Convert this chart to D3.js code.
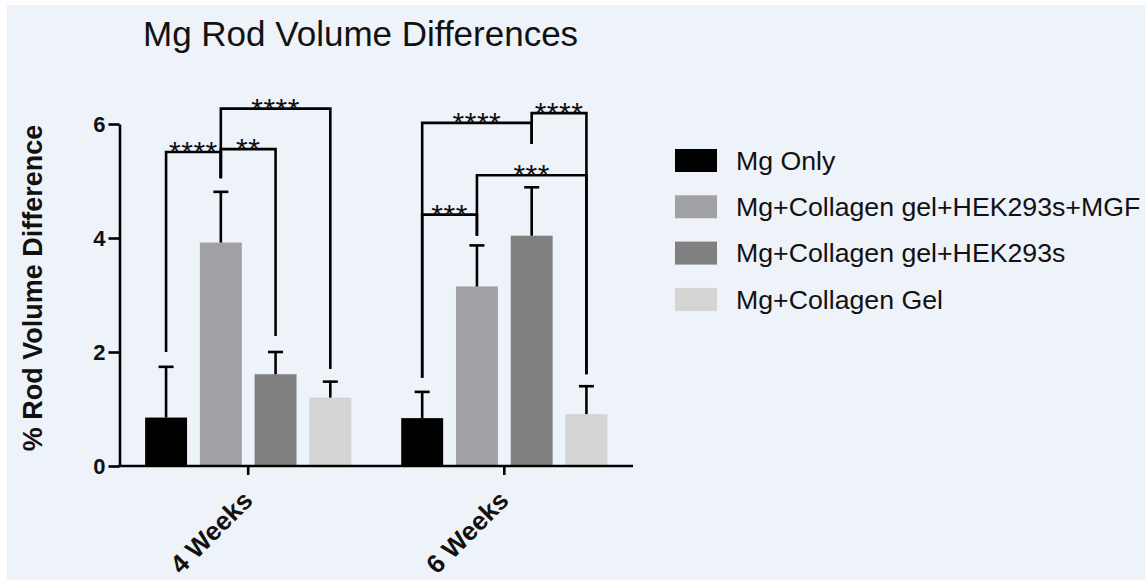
<!DOCTYPE html>
<html>
<head>
<meta charset="utf-8">
<script src="https://cdn.jsdelivr.net/npm/d3@7"></script>
<style>
  html, body { margin: 0; padding: 0; background: #ffffff; }
  svg { display: block; }
  text { font-family: "Liberation Sans", Arial, Helvetica, sans-serif; }
</style>
</head>
<body>
<svg id="chart" width="1145" height="580"></svg>
<script>
// ---- data ----
const groups = ["4 Weeks", "6 Weeks"];
const seriesNames = ["Mg Only", "Mg+Collagen gel+HEK293s+MGF", "Mg+Collagen gel+HEK293s", "Mg+Collagen Gel"];
const seriesColors = ["#000000", "#a1a1a5", "#808080", "#d4d4d4"];
const means4 = [0.85, 3.92, 1.61, 1.20];
const sd4    = [0.89, 0.89, 0.39, 0.28];
const means6 = [0.84, 3.15, 4.04, 0.91];
const sd6    = [0.46, 0.72, 0.85, 0.49];
const yTicks = [0, 2, 4, 6];
// significance brackets: group, from series, to series, bracket level, leg ends, label
const bracketGroup = [0, 0, 0, 1, 1, 1, 1];
const bracketFrom  = [0, 1, 1, 0, 0, 2, 1];
const bracketTo    = [1, 2, 3, 1, 2, 3, 3];
const bracketLevel = [5.51, 5.56, 6.27, 4.41, 6.02, 6.19, 5.10];
const legFrom      = [2.00, 5.05, 5.05, 1.55, 1.55, 5.65, 4.04];
const legTo        = [5.05, 2.28, 1.70, 4.04, 5.65, 1.61, 1.61];
const bracketLabel = ["****", "**", "****", "***", "****", "****", "***"];

const meansByGroup = [means4, means6];
const sdByGroup = [sd4, sd6];

// ---- drawing ----
const svg = d3.select("#chart");
svg.append("rect").attr("x", 7).attr("y", 5).attr("width", 1145 - 7).attr("height", 580 - 5).attr("fill", "#eef2f9");

const plotLeft = 119.5, plotRight = 633, plotTop = 124, plotBottom = 466;

const y = d3.scaleLinear().domain([0, 6]).range([plotBottom, plotTop]);
const x0 = d3.scaleBand().domain(groups).range([plotLeft, plotRight]).paddingInner(0.195).paddingOuter(0.1);
const x1 = d3.scaleBand().domain(d3.range(seriesNames.length)).range([0, x0.bandwidth()]).paddingInner(0.234).paddingOuter(0);

// title
svg.append("text").attr("x", 143).attr("y", 46).attr("font-size", 35).attr("fill", "#111")
  .text("Mg Rod Volume Differences");

// bars
const barData = [];
groups.forEach((g, gi) => {
  seriesNames.forEach((s, si) => {
    barData.push({ g, gi, si, mean: meansByGroup[gi][si], sd: sdByGroup[gi][si] });
  });
});
const cx = (gi, si) => x0(groups[gi]) + x1(si) + x1.bandwidth() / 2;

svg.append("g").selectAll("rect").data(barData).join("rect")
  .attr("x", d => x0(d.g) + x1(d.si))
  .attr("y", d => y(d.mean))
  .attr("width", x1.bandwidth())
  .attr("height", d => y(0) - y(d.mean))
  .attr("fill", d => seriesColors[d.si]);

// error bars (upper only)
const eb = svg.append("g").attr("stroke", "#000").attr("stroke-width", 2.6);
eb.selectAll("line.v").data(barData).join("line").attr("class", "v")
  .attr("x1", d => cx(d.gi, d.si)).attr("x2", d => cx(d.gi, d.si))
  .attr("y1", d => y(d.mean)).attr("y2", d => y(d.mean + d.sd));
eb.selectAll("line.c").data(barData).join("line").attr("class", "c")
  .attr("x1", d => cx(d.gi, d.si) - 7.5).attr("x2", d => cx(d.gi, d.si) + 7.5)
  .attr("y1", d => y(d.mean + d.sd)).attr("y2", d => y(d.mean + d.sd));

// y axis
const yAxis = svg.append("g").attr("transform", `translate(${plotLeft},0)`)
  .call(d3.axisLeft(y).tickValues(yTicks).tickFormat(d3.format("d")).tickSize(11).tickPadding(3).tickSizeOuter(0));
yAxis.select(".domain").attr("stroke", "#000").attr("stroke-width", 2.6);
yAxis.selectAll(".tick line").attr("stroke", "#000").attr("stroke-width", 2.6);
yAxis.selectAll(".tick text").attr("font-size", 22).attr("font-weight", "bold").attr("fill", "#111")
  .attr("font-family", "'Liberation Sans', Arial, sans-serif");

// x axis
const xAxis = svg.append("g").attr("transform", `translate(0,${plotBottom})`)
  .call(d3.axisBottom(x0).tickSize(9).tickSizeOuter(0).tickFormat(""));
xAxis.select(".domain").attr("stroke", "#000").attr("stroke-width", 2.6).attr("d", `M${plotLeft - 1.3},0H${plotRight}`);
xAxis.selectAll(".tick line").attr("stroke", "#000").attr("stroke-width", 2.6);

svg.append("g").selectAll("text").data(groups).join("text")
  .attr("transform", d => `translate(${x0(d) + x0.bandwidth() / 2 + 6},502) rotate(-45)`)
  .attr("text-anchor", "end")
  .attr("font-size", 26).attr("font-weight", "bold").attr("fill", "#111")
  .text(d => d);

// y label
svg.append("text").attr("transform", "translate(42,288) rotate(-90)")
  .attr("text-anchor", "middle").attr("font-size", 27).attr("font-weight", "bold").attr("fill", "#111")
  .text("% Rod Volume Difference");

// significance brackets
const br = svg.append("g");
bracketGroup.forEach((gi, i) => {
  const xa = cx(gi, bracketFrom[i]);
  const xb = cx(gi, bracketTo[i]);
  br.append("path")
    .attr("d", `M${xa},${y(legFrom[i])}V${y(bracketLevel[i])}H${xb}V${y(legTo[i])}`)
    .attr("fill", "none").attr("stroke", "#000").attr("stroke-width", 2.6)
    .attr("stroke-linejoin", "miter").attr("stroke-linecap", "butt");
  br.append("text")
    .attr("x", (xa + xb) / 2).attr("y", y(bracketLevel[i]) + 10)
    .attr("text-anchor", "middle").attr("font-size", 30).attr("letter-spacing", 0.5)
    .attr("fill", "#111")
    .text(bracketLabel[i]);
});

// legend
const lg = svg.append("g").attr("transform", "translate(675,149)");
const items = lg.selectAll("g").data(seriesNames).join("g")
  .attr("transform", (d, i) => `translate(0,${i * 46.3})`);
items.append("rect").attr("width", 42).attr("height", 23).attr("fill", (d, i) => seriesColors[i]);
items.append("text").attr("x", 61).attr("y", 11.5).attr("dy", "0.35em")
  .attr("font-size", 26.7).attr("fill", "#111").text(d => d);
</script>
</body>
</html>
